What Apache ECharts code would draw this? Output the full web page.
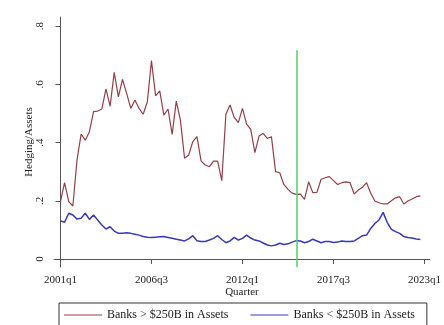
<!DOCTYPE html>
<html>
<head>
<meta charset="utf-8">
<script src="https://cdn.jsdelivr.net/npm/echarts@6/dist/echarts.min.js"></script>
<style>
  html, body { margin: 0; padding: 0; background: #fff; }
  #chart { width: 444px; height: 325px; }
</style>
</head>
<body>
<div id="chart"></div>
<script>
// Quarterly hedging-to-assets ratios, 2001q1 .. 2022q4
const startYear = 2001;
const quarters = [];
for (let y = startYear; y <= 2022; y++) {
  for (let q = 1; q <= 4; q++) quarters.push(y + 'q' + q);
}

const largeBanks = [
  0.197, 0.262, 0.197, 0.182, 0.340, 0.429, 0.408, 0.437, 0.506, 0.508,
  0.515, 0.584, 0.525, 0.641, 0.557, 0.617, 0.569, 0.517, 0.546, 0.517,
  0.497, 0.540, 0.681, 0.560, 0.577, 0.494, 0.515, 0.428, 0.542, 0.477,
  0.346, 0.357, 0.403, 0.420, 0.336, 0.323, 0.317, 0.336, 0.336, 0.269,
  0.498, 0.529, 0.486, 0.468, 0.517, 0.463, 0.445, 0.365, 0.422, 0.431,
  0.414, 0.420, 0.300, 0.296, 0.256, 0.239, 0.226, 0.222, 0.223, 0.205,
  0.265, 0.228, 0.229, 0.274, 0.279, 0.283, 0.269, 0.256, 0.262, 0.265,
  0.262, 0.223, 0.237, 0.246, 0.262, 0.226, 0.199, 0.193, 0.189, 0.189,
  0.200, 0.210, 0.214, 0.189, 0.199, 0.206, 0.214, 0.217
];

const smallBanks = [
  0.131, 0.126, 0.157, 0.151, 0.137, 0.140, 0.157, 0.136, 0.151, 0.134,
  0.117, 0.103, 0.111, 0.096, 0.088, 0.088, 0.090, 0.088, 0.085, 0.082,
  0.077, 0.075, 0.074, 0.075, 0.076, 0.077, 0.074, 0.071, 0.068, 0.065,
  0.062, 0.069, 0.080, 0.063, 0.060, 0.060, 0.065, 0.071, 0.080, 0.067,
  0.056, 0.062, 0.074, 0.065, 0.071, 0.082, 0.072, 0.065, 0.062, 0.055,
  0.048, 0.045, 0.048, 0.054, 0.050, 0.052, 0.058, 0.063, 0.062, 0.056,
  0.060, 0.068, 0.062, 0.056, 0.060, 0.060, 0.057, 0.058, 0.062, 0.060,
  0.060, 0.062, 0.071, 0.080, 0.082, 0.105, 0.122, 0.134, 0.160, 0.125,
  0.102, 0.094, 0.088, 0.077, 0.074, 0.072, 0.069, 0.067
];

// Tick positions (quarter index from 2001q1) and their labels
const xTickIdx = [0, 22, 44, 66, 88];
const xTickLabels = ['2001q1', '2006q3', '2012q1', '2017q3', '2023q1'];
const yTicks = [0, 0.2, 0.4, 0.6, 0.8];
const yTickLabels = ['0', '.2', '.4', '.6', '.8'];

// Vertical event marker (2015q2) and its height
const eventIdx = quarters.indexOf('2015q2');
const eventTop = 0.717;

const yMin = -0.0275, yMax = 0.831;
const serif = '"Liberation Serif", "DejaVu Serif", serif';
const redColor = '#94404a';
const blueColor = '#3838c0';

const toPairs = arr => arr.map((v, i) => [i, v]);

const chart = echarts.init(document.getElementById('chart'), null, { renderer: 'canvas' });
chart.setOption({
  backgroundColor: '#ffffff',
  animation: false,
  grid: { left: 54, right: 12, top: 17, bottom: 58 },
  xAxis: {
    type: 'value',
    min: -1.56,
    max: 89.3,
    name: 'Quarter',
    nameLocation: 'middle',
    nameGap: 20,
    nameMoveOverlap: false,
    nameTextStyle: { fontFamily: serif, fontSize: 11, color: '#222' },
    axisLine: { show: true, lineStyle: { color: '#555', width: 1 } },
    axisTick: { show: true, length: 5, customValues: xTickIdx, lineStyle: { color: '#555' } },
    axisLabel: {
      customValues: xTickIdx,
      margin: 8,
      fontFamily: serif, fontSize: 11, color: '#222',
      formatter: v => xTickLabels[xTickIdx.indexOf(Math.round(v))] || ''
    },
    splitLine: { show: false }
  },
  yAxis: {
    type: 'value',
    min: yMin,
    max: yMax,
    name: 'Hedging/Assets',
    nameLocation: 'middle',
    nameGap: 19,
    nameMoveOverlap: false,
    nameRotate: 90,
    nameTextStyle: { fontFamily: serif, fontSize: 11, color: '#222' },
    axisLine: { show: true, lineStyle: { color: '#555', width: 1 } },
    axisTick: { show: true, length: 5, customValues: yTicks, lineStyle: { color: '#555' } },
    axisLabel: {
      customValues: yTicks,
      rotate: 90,
      margin: 8,
      fontFamily: serif, fontSize: 11, color: '#222',
      formatter: v => {
        const k = yTicks.findIndex(t => Math.abs(t - v) < 1e-6);
        return k >= 0 ? yTickLabels[k] : '';
      }
    },
    splitLine: { show: false }
  },
  legend: {
    left: 59,
    top: 303,
    orient: 'horizontal',
    padding: [6, 12, 8, 5],
    itemGap: 22,
    itemWidth: 38,
    itemHeight: 1.2,
    icon: 'rect',
    borderColor: '#333',
    borderWidth: 1,
    borderRadius: 0,
    textStyle: { fontFamily: serif, fontSize: 12, color: '#222' },
    data: ['Banks > $250B in Assets', 'Banks < $250B in Assets']
  },
  series: [
    {
      name: 'Banks > $250B in Assets',
      type: 'line',
      data: toPairs(largeBanks),
      symbol: 'none',
      lineStyle: { color: redColor, width: 1.2 },
      itemStyle: { color: redColor },
      z: 3,
      markLine: {
        silent: true,
        symbol: 'none',
        label: { show: false },
        lineStyle: { color: '#55d066', width: 1.5, type: 'solid' },
        data: [[{ coord: [eventIdx, yMin] }, { coord: [eventIdx, eventTop] }]]
      }
    },
    {
      name: 'Banks < $250B in Assets',
      type: 'line',
      data: toPairs(smallBanks),
      symbol: 'none',
      lineStyle: { color: blueColor, width: 1.5 },
      itemStyle: { color: blueColor },
      z: 2
    }
  ]
});
</script>
</body>
</html>
